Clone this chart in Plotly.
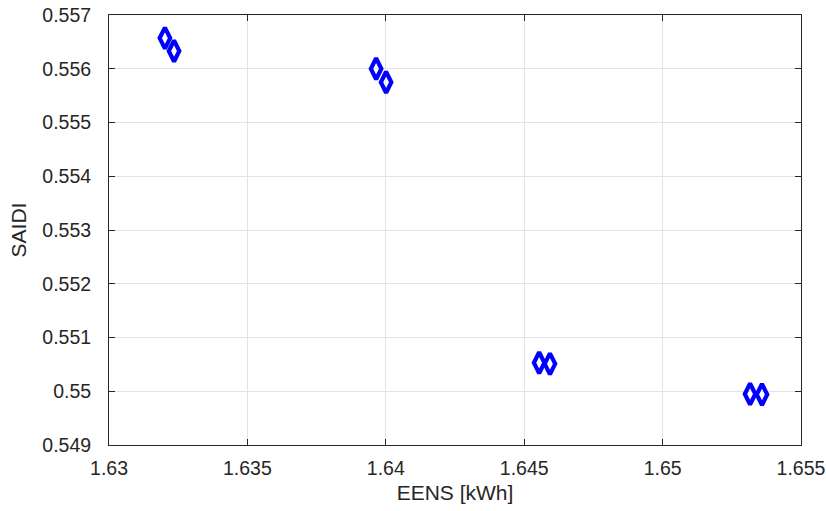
import plotly.graph_objects as go

eens = [1.63202, 1.63235, 1.63965, 1.64001, 1.64554, 1.64593, 1.65316, 1.65359]
saidi = [0.55657, 0.55633, 0.55600, 0.55575, 0.55053, 0.55051, 0.54995, 0.54994]

x_ticks = [1.63, 1.635, 1.64, 1.645, 1.65, 1.655]
x_labels = ["1.63", "1.635", "1.64", "1.645", "1.65", "1.655"]
y_ticks = [0.549, 0.55, 0.551, 0.552, 0.553, 0.554, 0.555, 0.556, 0.557]
y_labels = ["0.549", "0.55", "0.551", "0.552", "0.553", "0.554", "0.555", "0.556", "0.557"]

fig = go.Figure()
fig.add_trace(go.Scatter(
    x=eens, y=saidi, mode="markers",
    marker=dict(symbol="diamond-tall-open", size=15, color="#0000ff",
                line=dict(width=4.2, color="#0000ff")),
    showlegend=False,
))

FONT = "Liberation Sans, Arial, sans-serif"
axis_common = dict(
    showgrid=True, gridcolor="#e3e3e3", gridwidth=1,
    showline=True, linecolor="#262626", linewidth=1, mirror="ticks",
    ticks="inside", ticklen=6, tickcolor="#262626",
    zeroline=False, automargin=False, ticklabeloverflow="allow",
    tickfont=dict(family=FONT, size=19.5, color="#262626"),
)

fig.update_layout(
    width=826, height=511,
    margin=dict(l=109, r=25, t=15, b=66),
    paper_bgcolor="white", plot_bgcolor="white",
    font=dict(family=FONT, color="#262626"),
    xaxis=dict(range=[1.63, 1.655], tickvals=x_ticks, ticktext=x_labels,
               ticklabelstandoff=6,
               title=dict(text="EENS [kWh]", font=dict(size=21), standoff=6), **axis_common),
    yaxis=dict(range=[0.549, 0.557], tickvals=y_ticks, ticktext=y_labels,
               ticklabelstandoff=13,
               title=dict(text="SAIDI", font=dict(size=21), standoff=9), **axis_common),
)

fig.write_html("out.html", config={"displayModeBar": False},
               post_script="document.body.style.margin='0';")
